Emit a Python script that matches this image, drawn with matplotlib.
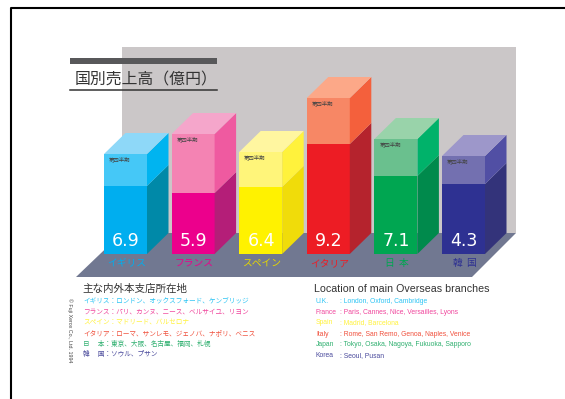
import matplotlib
matplotlib.use("Agg")
import matplotlib.pyplot as plt
from matplotlib.patches import Polygon, Rectangle

plt.rcParams['font.family'] = ['Noto Sans CJK JP', 'DejaVu Sans']

# bars, heights (px above the floor line)
countries = ['イギリス', 'フランス', 'スペイン', 'イタリア', '日  本', '韓  国']
sales = ['6.9', '5.9', '6.4', '9.2', '7.1', '4.3']
solid_height = [68, 61, 67, 110, 78, 70]
total_height = [100, 120, 102, 156, 115, 98]
q4_label = '第四半期'

front = ['#00aeef', '#ec008c', '#fff200', '#ed1c24', '#00a651', '#2e3192']
side = ['#0089a8', '#b41e78', '#f0dc0a', '#b5232d', '#008a4c', '#33337a']
front_q4 = ['#45c8f7', '#f483b3', '#fff57a', '#f78765', '#6ac08e', '#7370b0']
side_q4 = ['#00b4f0', '#ef5aa0', '#fff23c', '#f4603c', '#00b26a', '#514fa4']
top_q4 = ['#8ed8f8', '#f5a6cb', '#fff6a0', '#fca888', '#99d3aa', '#9d97ca']
label_col = ['#00aeef', '#ec008c', '#e5d800', '#ed1c24', '#00a651', '#2e3192']

jp_lines = ['イギリス：ロンドン、オックスフォード、ケンブリッジ',
            'フランス：パリ、カンヌ、ニース、ベルサイユ、リヨン',
            'スペイン：マドリード、バルセロナ',
            'イタリア：ローマ、サンレモ、ジェノバ、ナポリ、ベニス',
            '日　 本：東京、大阪、名古屋、福岡、札幌',
            '韓　 国：ソウル、プサン']
en_names = ['U.K.', 'France', 'Spain', 'Italy', 'Japan', 'Korea']
en_cities = [': London, Oxford, Cambridge',
             ': Paris, Cannes, Nice, Versailles, Lyons',
             ': Madrid, Barcelona',
             ': Rome, San Remo, Genoa, Naples, Venice',
             ': Tokyo, Osaka, Nagoya, Fukuoka, Sapporo',
             ': Seoul, Pusan']
list_col = ['#2cc4f4', '#f0459c', '#fff23c', '#f0503c', '#30b070', '#4a4a9c']

fig = plt.figure(figsize=(5.65, 3.99), dpi=100)
ax = fig.add_axes([0, 0, 1, 1])
ax.set_xlim(0, 565)
ax.set_ylim(399, 0)
ax.axis('off')

base = 254
bar_w = 43
dx, dy = 21.5, 21

# wall and floor
ax.add_patch(Rectangle((122, 47), 394, 186, color='#cbc7c8', lw=0, zorder=1))
ax.add_patch(Polygon([(122, 233), (516, 233), (472, 277), (76, 277)], color='#717891', lw=0, zorder=1))

# frame, only top and left are in the picture
ax.plot([11, 11, 565], [399, 8, 8], color='black', lw=1.5, zorder=1)

for i in range(len(sales)):
    x = 104 + i * 67.6
    split = base - solid_height[i]
    top = base - total_height[i]
    ax.bar(x, solid_height[i], bar_w, bottom=split, align='edge', color=front[i], zorder=3)
    ax.bar(x, total_height[i] - solid_height[i], bar_w, bottom=top, align='edge', color=front_q4[i], zorder=3)
    r = x + bar_w
    ax.add_patch(Polygon([(r, base), (r + dx, base - dy), (r + dx, split - dy), (r, split)], color=side[i], lw=0, zorder=3))
    ax.add_patch(Polygon([(r, split), (r + dx, split - dy), (r + dx, top - dy), (r, top)], color=side_q4[i], lw=0, zorder=3))
    ax.add_patch(Polygon([(x, top), (x + dx, top - dy), (r + dx, top - dy), (r, top)], color=top_q4[i], lw=0, zorder=3))
    ax.text(x + 5, top + 7, q4_label, fontsize=3.9, color='#444444', va='baseline', zorder=4)
    ax.text(x + bar_w / 2 + 0.5, base - 8, sales[i], fontsize=12.5, color='white', ha='center', va='baseline',
            family='DejaVu Sans', zorder=4)
    ax.text(x + bar_w / 2 + 1, base + 12, countries[i], fontsize=7, color=label_col[i], ha='center', va='baseline', zorder=4)

# title
ax.add_patch(Rectangle((70, 58), 147, 6, color='#58585a', lw=0, zorder=5))
ax.text(75, 84, '国別売上高（億円）', fontsize=11.4, color='#333333', va='baseline', zorder=5)
ax.plot([70, 217], [90, 90], color='#333333', lw=1.1, zorder=5)

# branch lists
ax.text(82, 292, '主な内外本支店所在地', fontsize=7.6, color='#333333', va='baseline')
ax.text(314.5, 292, 'Location of main Overseas branches', fontsize=7.7, color='#333333', va='baseline',
        family='Liberation Sans')
jp_ys = [303, 314, 324, 335, 346, 356]
en_ys = [303.4, 314.4, 324.4, 336.4, 346.4, 357.4]
for i in range(len(jp_lines)):
    ax.text(83, jp_ys[i], jp_lines[i], fontsize=4.8, color=list_col[i], va='baseline')
    ax.text(316, en_ys[i], en_names[i], fontsize=4.9, color=list_col[i], va='baseline', family='Liberation Sans')
    ax.text(340.5, en_ys[i], en_cities[i], fontsize=4.9, color=list_col[i], va='baseline', family='Liberation Sans')

ax.text(70, 330.5, '© Fuji Xerox Co., Ltd. 1994', fontsize=3.8, color='#444444', rotation=270, ha='center', va='center',
        family='Liberation Sans')

fig.savefig('out.png', dpi=100)
